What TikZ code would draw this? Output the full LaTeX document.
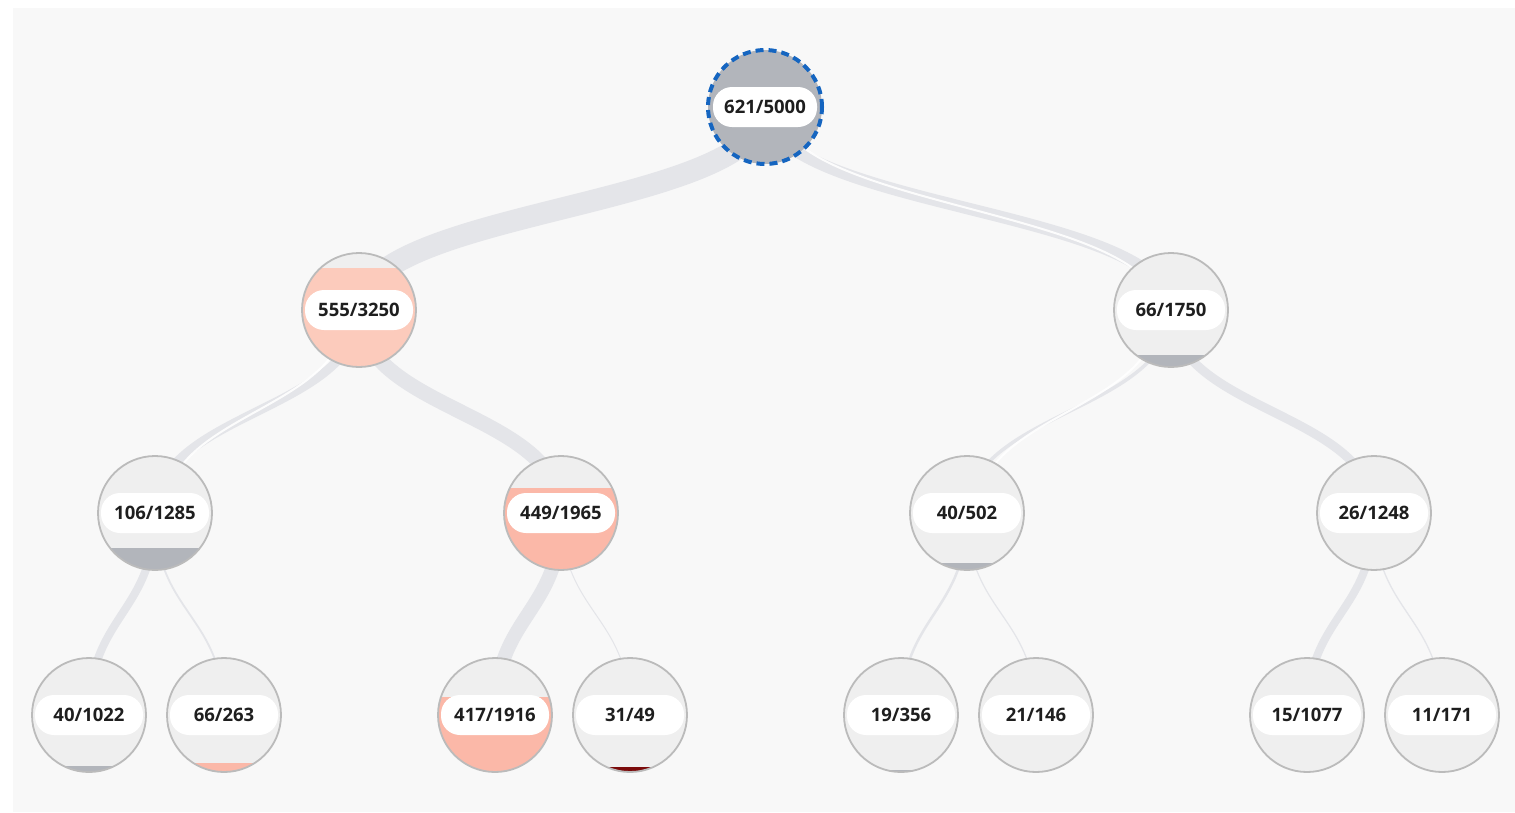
\documentclass[tikz,border=0pt]{standalone}
\usepackage{fontspec}
\setmainfont{Open Sans}
\usetikzlibrary{calc}
\pgfdeclarelayer{bg}
\pgfdeclarelayer{edges}
\pgfsetlayers{bg,edges,main}
\definecolor{pagebg}{HTML}{F8F8F8}
\definecolor{edgegray}{HTML}{E4E5E9}
\definecolor{basefill}{HTML}{EFEFEF}
\definecolor{negfill}{HTML}{B2B5BB}
\definecolor{posfill}{HTML}{FBB8A8}
\definecolor{poslight}{HTML}{FCCBBC}
\definecolor{darkred}{HTML}{7A0A0A}
\definecolor{ringgray}{HTML}{BBBBBB}
\definecolor{dashblue}{HTML}{1565C0}
\definecolor{txt}{HTML}{1E1E1E}
\tikzset{
  treecircle/.style={circle, minimum size=114pt, inner sep=0pt, draw=ringgray, line width=1.8pt, text=txt, font=\fontsize{18.5}{20}\selectfont\bfseries},
  rootcircle/.style={treecircle, draw=dashblue, line width=4pt, dash pattern=on 8pt off 5pt},
  edge/.style={draw=edgegray, line cap=butt},
  strand/.style={draw=white, line width=2pt, opacity=0.9}
}
\newcommand{\treenode}[8]{% name, x, y, label, color, level, style, pill half width
  \begin{scope}
    \clip (#2,#3) circle[radius=57pt];
    \fill[basefill] (#2,#3) circle[radius=57pt];
    \fill[#5] (#2-60,#3+#6) rectangle (#2+60,#3+60);
    \fill[white, rounded corners=19pt] (#2-#8,#3-20) rectangle (#2+#8,#3+20);
  \end{scope}
  \node[#7] (#1) at (#2,#3) {#4};
}
% link with vertical tangents at both ends
\newcommand{\tlink}[3]{%
  \draw[edge, line width=#3] let \p1=(#1.center), \p2=(#2.center), \p3=($(#1.center)!0.5!(#2.center)$) in
    (#1.center) .. controls (\x1,\y3) and (\x2,\y3) .. (#2.center);
}
\newcommand{\slink}[4]{%
  \draw[strand] let \p1=([xshift=#3]#1.center), \p2=([xshift=#4]#2.center), \p3=($(\p1)!0.5!(\p2)$) in
    (\p1) .. controls (\x1,\y3) and (\x2,\y3) .. (\p2);
}
\begin{document}
\begin{tikzpicture}[x=1pt, y=-1pt]
\useasboundingbox (0,0) rectangle (1515,812);
\begin{pgfonlayer}{bg}
  \fill[white] (0,0) rectangle (1515,812);
  \fill[pagebg] (13,8) rectangle (1515,812);
\end{pgfonlayer}

\treenode{root}{765}{107}{621/5000}{negfill}{-60}{rootcircle}{52}
\treenode{a}{359}{310}{555/3250}{poslight}{-42}{treecircle}{54}
\treenode{b}{1171}{310}{66/1750}{negfill}{45}{treecircle}{54}
\treenode{aa}{155}{513}{106/1285}{negfill}{35}{treecircle}{54}
\treenode{ab}{561}{513}{449/1965}{posfill}{-25}{treecircle}{54}
\treenode{ba}{967}{513}{40/502}{negfill}{50}{treecircle}{54}
\treenode{bb}{1374}{513}{26/1248}{negfill}{56}{treecircle}{54}
\treenode{aaa}{89}{715}{40/1022}{negfill}{51}{treecircle}{54}
\treenode{aab}{224}{715}{66/263}{posfill}{48}{treecircle}{54}
\treenode{aba}{495}{715}{417/1916}{posfill}{-18}{treecircle}{54}
\treenode{abb}{630}{715}{31/49}{darkred}{52}{treecircle}{54}
\treenode{baa}{901}{715}{19/356}{negfill}{55}{treecircle}{54}
\treenode{bab}{1036}{715}{21/146}{poslight}{56}{treecircle}{54}
\treenode{bba}{1307}{715}{15/1077}{negfill}{58}{treecircle}{54}
\treenode{bbb}{1442}{715}{11/171}{negfill}{58}{treecircle}{54}

\begin{pgfonlayer}{edges}
  \tlink{root}{a}{22pt}
  \tlink{root}{b}{12pt}
  \tlink{a}{aa}{9pt}
  \tlink{a}{ab}{15pt}
  \tlink{b}{ba}{3.5pt}
  \tlink{b}{bb}{9pt}
  \tlink{aa}{aaa}{8pt}
  \tlink{aa}{aab}{1.8pt}
  \tlink{ab}{aba}{14pt}
  \tlink{ab}{abb}{1pt}
  \tlink{ba}{baa}{2.5pt}
  \tlink{ba}{bab}{1.2pt}
  \tlink{bb}{bba}{8pt}
  \tlink{bb}{bbb}{1.3pt}
  % thin light strands
  \slink{root}{b}{14pt}{-12pt}
  \slink{a}{aa}{-12pt}{10pt}
  \slink{b}{ba}{-12pt}{10pt}
\end{pgfonlayer}
\end{tikzpicture}
\end{document}
